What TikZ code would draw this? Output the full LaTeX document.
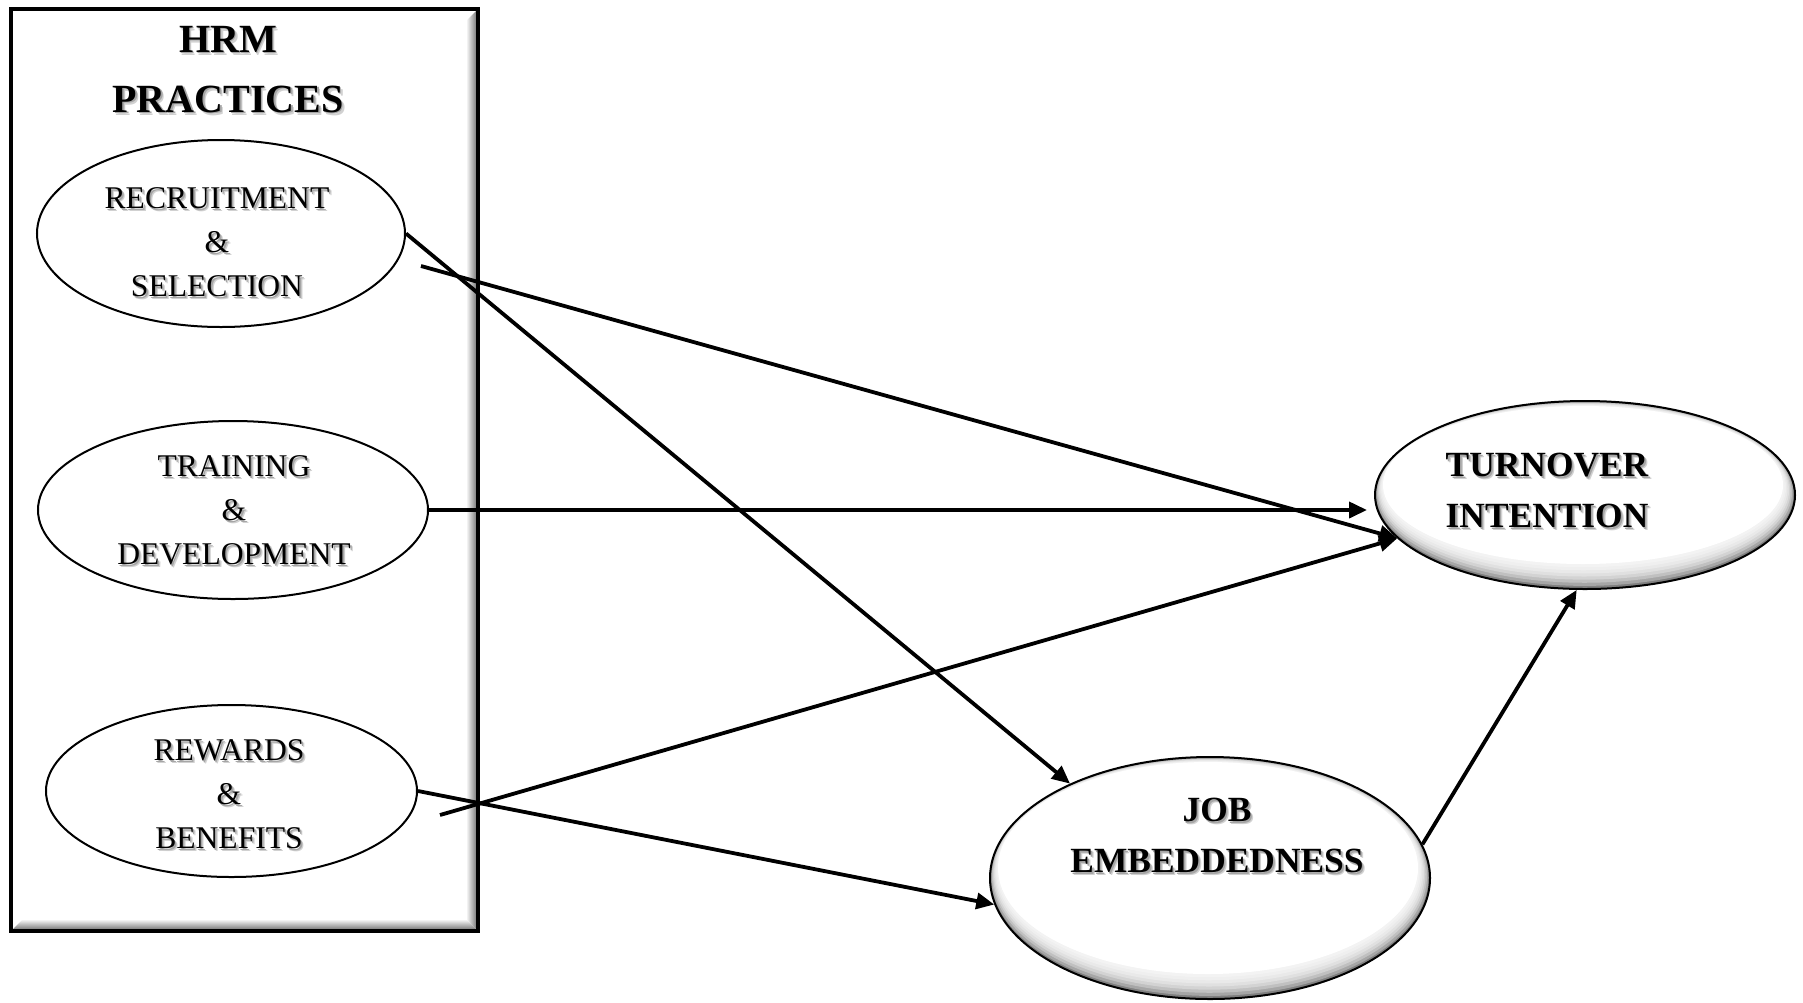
\documentclass[tikz,border=0pt]{standalone}
\usepackage{fontspec}
\setmainfont{Liberation Serif}
\usetikzlibrary{shapes.geometric,arrows.meta}

% text with a soft drop shadow
\newcommand\sh[1]{\leavevmode\rlap{\kern1.4pt\raisebox{-1.4pt}{\color{black!18}#1}}\rlap{\kern0.8pt\raisebox{-0.8pt}{\color{black!35}#1}}#1}

% bevelled fill for the two outcome ellipses: centre x, centre y, x radius, y radius
\newcommand\bevelfill[4]{%
  \fill[black!50] (#1,#2) ellipse [x radius=#3, y radius=#4];
  \foreach \k in {1,...,8}{
    \fill[white,opacity=.3] ({#1-2*\k/8},{#2-10*\k/8}) ellipse [x radius={#3-10*\k/8}, y radius={#4-15*\k/8}];
  }
  \fill[white] ({#1-2},{#2-10}) ellipse [x radius={#3-10}, y radius={#4-15}];
}

\tikzset{
  lbl/.style={align=center, inner sep=0, font=\fontsize{15.8}{22}\selectfont},
  ttl/.style={align=center, inner sep=0, font=\bfseries\fontsize{20}{30}\selectfont},
  big/.style={align=center, inner sep=0, font=\bfseries\fontsize{17.7}{25.5}\selectfont},
  oval/.style={ellipse, draw, line width=1pt, inner sep=0},
  link/.style={line width=1.9pt, -{Triangle[length=9pt,width=8pt]}},
}

\begin{document}
\begin{tikzpicture}[x=0.5pt,y=-0.5pt]
\useasboundingbox (0,0) rectangle (1803,1002);
\fill[white] (0,0) rectangle (1803,1002);

% inner shadow along the right and bottom of the practices frame
\shade[left color=white, right color=black!55] (466,21) -- (477,10) -- (477,930) -- (466,919) -- cycle;
\shade[top color=white, bottom color=black!55] (23,919) -- (466,919) -- (477,930) -- (12,930) -- cycle;
\node[draw, line width=1.8pt, inner sep=0, minimum width=233.5pt, minimum height=461pt] (hrm) at (244.5,470) {};

\node[ttl] (hrm-t) at (228,70.7) {\sh{HRM}\\\sh{PRACTICES}};

% practice ellipses
\node[oval, minimum width=184pt, minimum height=93.5pt] (rs) at (221,233.5) {};
\node[oval, minimum width=195pt, minimum height=89pt] (td) at (233,510) {};
\node[oval, minimum width=185.5pt, minimum height=86pt] (rb) at (231.5,791) {};

\node[lbl] (rs-t) at (217,243.5) {\sh{RECRUITMENT}\\\sh{\&}\\\sh{SELECTION}};
\node[lbl] (td-t) at (234,512) {\sh{TRAINING}\\\sh{\&}\\\sh{DEVELOPMENT}};
\node[lbl] (rb-t) at (229,796) {\sh{REWARDS}\\\sh{\&}\\\sh{BENEFITS}};

% outcome ellipses
\bevelfill{1585}{495}{210}{94}
\bevelfill{1210}{878}{220}{121}
\node[oval, minimum width=210pt, minimum height=94pt] (ti) at (1585,495) {};
\node[oval, minimum width=220pt, minimum height=121pt] (je) at (1210,878) {};

\node[big] (ti-t) at (1547,491.8) {\sh{TURNOVER}\\\sh{INTENTION}};
\node[big] (je-t) at (1217,836.8) {\sh{JOB}\\\sh{EMBEDDEDNESS}};

% paths
\coordinate (s2) at (421,266);
\coordinate (s4) at (440,815);
\draw[link] (rs.east) -- (je.146.4);
\draw[link] (s2) -- (ti.193);
\draw[link, shorten >=3.5pt] (td.east) -- (td.east -| ti.west);
\draw[link] (s4) -- (ti.193);
\draw[link] (rb.east) -- (je.187);
\draw[link] (je.9.7) -- (ti.265);
\end{tikzpicture}
\end{document}
